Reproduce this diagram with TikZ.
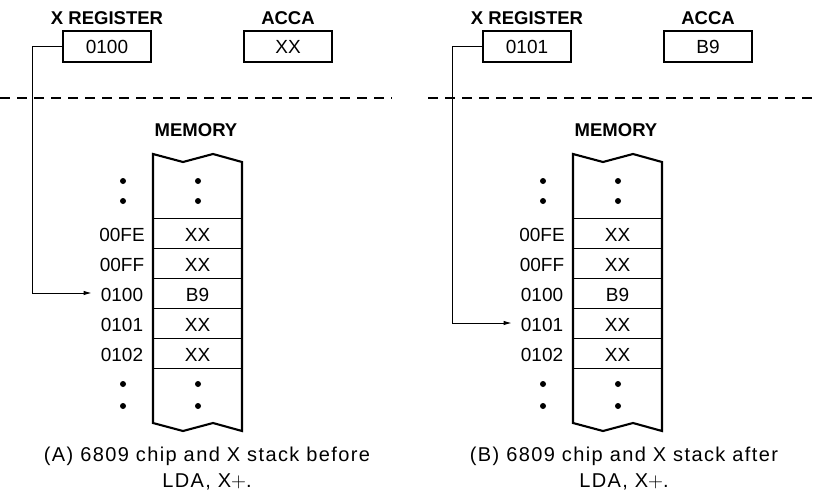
\documentclass[tikz,border=0pt]{standalone}
\usepackage{fontspec}
\setmainfont{Liberation Sans}
\newfontfamily\capfont[LetterSpace=7]{Liberation Sans}
\usetikzlibrary{arrows.meta}

\tikzset{
  title/.style={font=\fontsize{18.5}{20}\selectfont\bfseries, inner sep=0pt, anchor=base},
  regbox/.style={draw, line width=1.8pt, minimum width=88pt, minimum height=31pt,
    inner sep=0pt, text height=13.6pt, text depth=0pt, font=\fontsize{19}{21}\selectfont},
  memtext/.style={inner sep=0pt, text height=13.6pt, text depth=0pt,
    font=\fontsize{19}{21}\selectfont},
  column/.style={line width=2.1pt, line join=miter},
  rowline/.style={line width=0.9pt},
  divider/.style={dash pattern=on 10pt off 7pt, line width=1.2pt},
  conn/.style={line width=1pt, -{Latex[length=8pt,width=4.5pt]}},
  caption/.style={font=\capfont\fontsize{20}{24}\selectfont, inner sep=0pt, anchor=base},
}

% #1 name prefix, #2 horizontal shift, #3 X register, #4 ACCA,
% #5 row the X register points at, #6 caption line, #7 caption centre
\newcommand\stackpanel[7]{%
  \begin{scope}[xshift=#2]
    % registers
    \node[title] (#1xt) at (107,25) {X REGISTER};
    \node[title] (#1at) at (288,25) {ACCA};
    \node[regbox] (#1xr) at (107,46.5) {#3};
    \node[regbox] (#1ac) at (288,46.5) {#4};
    % memory column with torn top and bottom edges
    \node[title] (#1mt) at (196,136.5) {MEMORY};
    \draw[column] (153,154) -- (183,162) -- (213,154) -- (242,162)
      -- (242,431) -- (213,423) -- (183,431) -- (153,423) -- cycle;
    \foreach \y in {218,248,...,368} \draw[rowline] (153,\y) -- (242,\y);
    \foreach \a/\c [count=\i] in {00FE/XX,00FF/XX,0100/B9,0101/XX,0102/XX} {
      \node[memtext] (#1c\i) at (197.5,205+30*\i) {\c};
      \node[memtext] (#1a\i) at (122,205+30*\i) {\a};
    }
    % continuation dots
    \foreach \x in {123,198} \foreach \y in {181,201,384,406}
      \fill (\x,\y) circle[radius=3];
    % X register points into memory
    \draw[conn] (#1xr.west) -- ++(-30,0) |- ([xshift=-9pt,yshift=2pt]#1a#5.west);
    % caption
    \node[caption] (#1cap1) at (#7,461) {#6};
    \node[caption] (#1cap2) at (#7,487) {LDA, X$+$.};
  \end{scope}}

\begin{document}
\begin{tikzpicture}[x=1pt,y=-1pt]
  \useasboundingbox (0,0) rectangle (813,492);
  \draw[divider] (0,98) -- (392,98);
  \draw[divider] (428,98) -- (813,98);
  \stackpanel{L}{0pt}{0100}{XX}{3}{(A) 6809 chip and X stack before}{207}
  \stackpanel{R}{420pt}{0101}{B9}{4}{(B) 6809 chip and X stack after}{204}
\end{tikzpicture}
\end{document}
